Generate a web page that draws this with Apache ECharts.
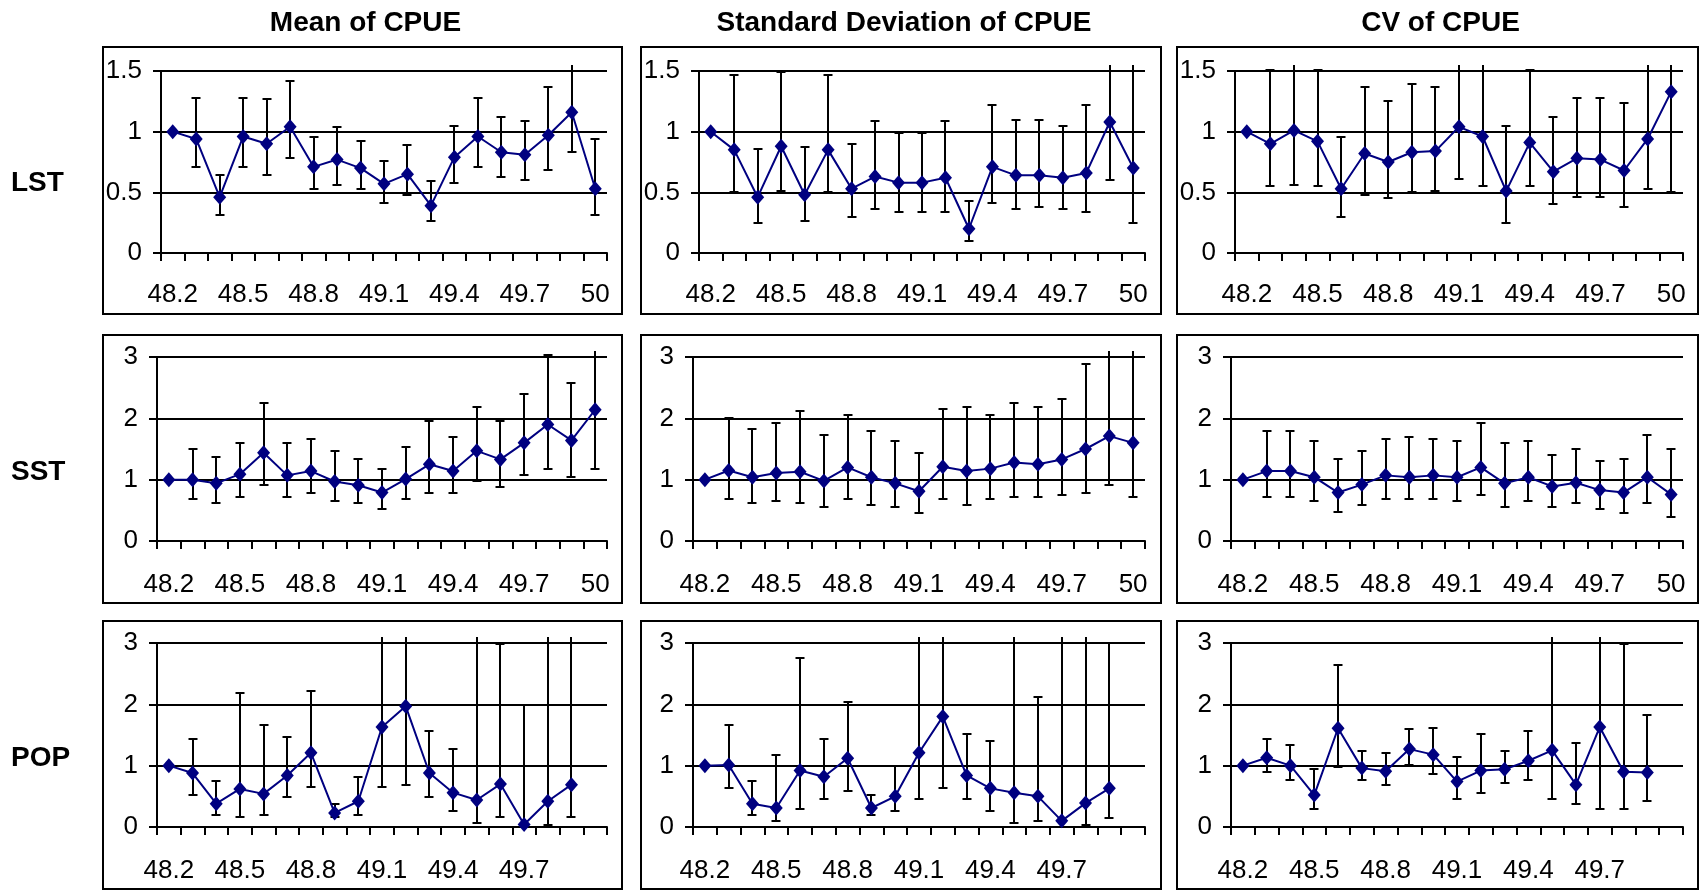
<!DOCTYPE html>
<html>
<head>
<meta charset="utf-8">
<title>CPUE</title>
<script src="https://cdn.jsdelivr.net/npm/echarts@6/dist/echarts.min.js"></script>
<style>
  html, body { margin: 0; padding: 0; background: #fff; }
  #main { width: 1700px; height: 891px; }
</style>
</head>
<body>
<div id="main"></div>
<script>
// latitude categories (x axis)
var categories = ['48.2','48.3','48.4','48.5','48.6','48.7','48.8','48.9','49','49.1',
                  '49.2','49.3','49.4','49.5','49.6','49.7','49.8','49.9','50'];
var colTitles = ['Mean of CPUE', 'Standard Deviation of CPUE', 'CV of CPUE'];
var rowNames = ['LST', 'SST', 'POP'];
var rowMax = [1.5, 3, 3];
var rowStep = [0.5, 1, 1];

// LST
var lstMean   = [1.00,0.94,0.46,0.96,0.90,1.04,0.71,0.77,0.70,0.57,0.65,0.39,0.79,0.96,0.83,0.81,0.97,1.16,0.53];
var lstMeanLo = [null,0.71,0.31,0.71,0.64,0.78,0.53,0.56,0.53,0.41,0.48,0.26,0.58,0.71,0.63,0.60,0.68,0.83,0.31];
var lstMeanHi = [null,1.28,0.64,1.28,1.27,1.42,0.96,1.04,0.92,0.76,0.89,0.59,1.05,1.28,1.12,1.09,1.37,1.65,0.94];
var lstSd     = [1.00,0.85,0.46,0.88,0.48,0.85,0.53,0.63,0.58,0.58,0.62,0.20,0.71,0.64,0.64,0.62,0.66,1.08,0.70];
var lstSdLo   = [null,0.50,0.25,0.51,0.26,0.50,0.30,0.36,0.34,0.34,0.34,0.10,0.41,0.36,0.38,0.36,0.34,0.60,0.25];
var lstSdHi   = [null,1.47,0.86,1.49,0.87,1.47,0.90,1.09,0.99,0.99,1.09,0.43,1.22,1.10,1.10,1.05,1.22,1.70,1.70];
var lstCv     = [1.00,0.90,1.01,0.92,0.53,0.82,0.75,0.83,0.84,1.04,0.96,0.51,0.91,0.67,0.78,0.77,0.68,0.94,1.33];
var lstCvLo   = [null,0.55,0.56,0.55,0.30,0.48,0.45,0.50,0.51,0.61,0.55,0.25,0.55,0.40,0.46,0.46,0.38,0.53,0.50];
var lstCvHi   = [null,1.51,1.70,1.51,0.96,1.37,1.25,1.39,1.37,1.70,1.70,1.05,1.51,1.12,1.28,1.28,1.24,1.70,1.70];

// SST
var sstMean   = [1.00,1.00,0.94,1.09,1.44,1.07,1.14,0.97,0.91,0.79,1.01,1.25,1.14,1.47,1.33,1.60,1.90,1.64,2.14];
var sstMeanLo = [null,0.68,0.62,0.72,0.91,0.72,0.78,0.65,0.62,0.52,0.68,0.78,0.78,0.98,0.88,1.07,1.18,1.04,1.17];
var sstMeanHi = [null,1.50,1.37,1.60,2.25,1.60,1.67,1.47,1.34,1.18,1.53,1.96,1.70,2.19,1.96,2.39,3.04,2.58,3.40];
var sstSd     = [1.00,1.15,1.04,1.11,1.13,0.98,1.20,1.04,0.94,0.81,1.21,1.14,1.18,1.28,1.25,1.33,1.50,1.71,1.60];
var sstSdLo   = [null,0.68,0.62,0.65,0.62,0.55,0.68,0.59,0.55,0.46,0.68,0.59,0.68,0.72,0.72,0.75,0.78,0.91,0.72];
var sstSdHi   = [null,2.00,1.82,1.92,2.12,1.73,2.05,1.79,1.63,1.44,2.15,2.19,2.05,2.25,2.19,2.31,2.88,3.40,3.40];
var sstCv     = [1.00,1.14,1.14,1.04,0.79,0.92,1.07,1.04,1.07,1.04,1.20,0.94,1.04,0.89,0.95,0.83,0.79,1.04,0.76];
var sstCvLo   = [null,0.72,0.72,0.65,0.48,0.59,0.68,0.68,0.68,0.65,0.75,0.55,0.65,0.55,0.62,0.52,0.46,0.62,0.39];
var sstCvHi   = [null,1.80,1.80,1.63,1.34,1.47,1.67,1.70,1.67,1.63,1.92,1.59,1.63,1.41,1.50,1.30,1.34,1.73,1.50];

// POP (no value at 50)
var popMean   = [1.00,0.88,0.38,0.62,0.54,0.84,1.21,0.23,0.42,1.63,1.97,0.88,0.56,0.44,0.70,0.04,0.42,0.69,null];
var popMeanLo = [null,0.52,0.19,0.16,0.19,0.49,0.65,0.16,0.19,0.65,0.68,0.49,0.26,0.07,0.16,0.00,0.03,0.16,null];
var popMeanHi = [null,1.43,0.75,2.19,1.67,1.46,2.22,0.38,0.82,3.40,3.40,1.57,1.27,3.40,2.98,1.99,3.40,3.40,null];
var popSd     = [1.00,1.01,0.38,0.31,0.92,0.82,1.12,0.31,0.50,1.21,1.80,0.84,0.63,0.56,0.50,0.10,0.39,0.63,null];
var popSdLo   = [null,0.63,0.19,0.10,0.30,0.46,0.59,0.19,0.26,0.46,0.63,0.46,0.26,0.07,0.10,0.00,0.03,0.14,null];
var popSdHi   = [null,1.67,0.75,1.17,2.75,1.43,2.03,0.52,0.99,3.40,3.40,1.51,1.40,3.40,2.12,3.40,3.40,3.00,null];
var popCv     = [1.00,1.13,1.00,0.52,1.61,0.96,0.91,1.27,1.18,0.74,0.92,0.94,1.08,1.25,0.69,1.63,0.90,0.89,null];
var popCvLo   = [null,0.89,0.76,0.30,0.98,0.76,0.69,1.01,0.86,0.46,0.56,0.72,0.76,0.46,0.37,0.30,0.30,0.43,null];
var popCvHi   = [null,1.43,1.33,0.95,2.64,1.24,1.21,1.60,1.62,1.14,1.51,1.24,1.56,3.40,1.37,3.40,2.98,1.83,null];

var panels = [
  [[lstMean, lstMeanLo, lstMeanHi], [lstSd, lstSdLo, lstSdHi], [lstCv, lstCvLo, lstCvHi]],
  [[sstMean, sstMeanLo, sstMeanHi], [sstSd, sstSdLo, sstSdHi], [sstCv, sstCvLo, sstCvHi]],
  [[popMean, popMeanLo, popMeanHi], [popSd, popSdLo, popSdHi], [popCv, popCvLo, popCvHi]]
];

// layout (px)
var FONT = '"Liberation Sans", Arial, sans-serif';
var boxLeft = [103, 641, 1177], boxRight = [622, 1161, 1698];
var boxTop = [47, 335, 621], boxBottom = [314, 603, 889];
var plotTop = [71, 357, 643], plotBottom = [253, 541, 827];
var plotLeft = [[161, 699, 1235], [157, 693, 1231], [157, 693, 1231]];
var plotRight = [607, 1145, 1683];

function errorBar(params, api) {
  var cs = params.coordSys;
  var i = api.value(0);
  var pHi = api.coord([i, api.value(2)]);
  var pLo = api.coord([i, api.value(1)]);
  var x = Math.round(pHi[0]), w = 4.5;
  var yTop = Math.round(pHi[1]), yBot = Math.round(pLo[1]);
  var capTop = true, capBot = true;
  if (yTop < cs.y - 6) { yTop = cs.y - 6; capTop = false; }
  if (yBot > cs.y + cs.height) { yBot = cs.y + cs.height; capBot = false; }
  var st = { stroke: '#000', lineWidth: 2 };
  var kids = [{ type: 'line', shape: { x1: x, y1: yTop, x2: x, y2: yBot }, style: st }];
  if (capTop) kids.push({ type: 'line', shape: { x1: x - w, y1: yTop, x2: x + w, y2: yTop }, style: st });
  if (capBot) kids.push({ type: 'line', shape: { x1: x - w, y1: yBot, x2: x + w, y2: yBot }, style: st });
  return { type: 'group', children: kids };
}

var grids = [], xAxes = [], yAxes = [], series = [], graphics = [];

for (var r = 0; r < 3; r++) {
  for (var c = 0; c < 3; c++) {
    var k = r * 3 + c;
    grids.push({
      left: plotLeft[r][c], top: plotTop[r],
      width: plotRight[c] - plotLeft[r][c], height: plotBottom[r] - plotTop[r]
    });
    xAxes.push({
      type: 'category', gridIndex: k, data: categories, boundaryGap: true,
      axisLine: { show: true, lineStyle: { color: '#000', width: 2 } },
      axisTick: { show: true, interval: 0, length: 8, lineStyle: { color: '#000', width: 2 } },
      axisLabel: {
        interval: 2, color: '#000', fontSize: 26, fontFamily: FONT, margin: r === 0 ? 29 : 31,
        // POP panels have no 50 value, so its label is left off
        formatter: (function (row) {
          return function (v, idx) { return (row === 2 && idx === 18) ? '' : v; };
        })(r)
      },
      splitLine: { show: false }
    });
    yAxes.push({
      type: 'value', gridIndex: k, min: 0, max: rowMax[r], interval: rowStep[r],
      axisLine: { show: true, lineStyle: { color: '#000', width: 2 } },
      axisTick: { show: true, length: 8, lineStyle: { color: '#000', width: 2 } },
      axisLabel: { color: '#000', fontSize: 26, fontFamily: FONT, margin: 19 },
      splitLine: { show: true, lineStyle: { color: '#000', width: 2 } }
    });

    var d = panels[r][c];
    var bars = [];
    for (var i = 0; i < categories.length; i++) {
      if (d[1][i] != null && d[2][i] != null) bars.push([i, d[1][i], d[2][i]]);
    }
    series.push({
      type: 'custom', xAxisIndex: k, yAxisIndex: k, z: 2,
      renderItem: errorBar, encode: { x: 0, y: [1, 2] }, data: bars
    });
    series.push({
      type: 'line', xAxisIndex: k, yAxisIndex: k, z: 3, data: d[0],
      symbol: 'diamond', symbolSize: [13, 15], showSymbol: true,
      itemStyle: { color: '#000080' },
      lineStyle: { color: '#000080', width: 2 }
    });

    graphics.push({
      type: 'rect', silent: true,
      shape: { x: boxLeft[c], y: boxTop[r], width: boxRight[c] - boxLeft[c], height: boxBottom[r] - boxTop[r] },
      style: { fill: 'none', stroke: '#000', lineWidth: 2 }
    });
  }
}

// column titles
for (var c2 = 0; c2 < 3; c2++) {
  graphics.push({
    type: 'text', silent: true,
    x: (boxLeft[c2] + boxRight[c2]) / 2 + 3, y: 23,
    style: { text: colTitles[c2], fontSize: 28, fontWeight: 'bold', fontFamily: FONT,
             fill: '#000', align: 'center', verticalAlign: 'middle' }
  });
}
// row names
for (var r2 = 0; r2 < 3; r2++) {
  graphics.push({
    type: 'text', silent: true,
    x: 11, y: (boxTop[r2] + boxBottom[r2]) / 2 + 3,
    style: { text: rowNames[r2], fontSize: 28, fontWeight: 'bold', fontFamily: FONT,
             fill: '#000', align: 'left', verticalAlign: 'middle' }
  });
}

var chart = echarts.init(document.getElementById('main'), null, { renderer: 'canvas' });
chart.setOption({
  backgroundColor: '#fff',
  animation: false,
  grid: grids,
  xAxis: xAxes,
  yAxis: yAxes,
  series: series,
  graphic: graphics
});
</script>
</body>
</html>
